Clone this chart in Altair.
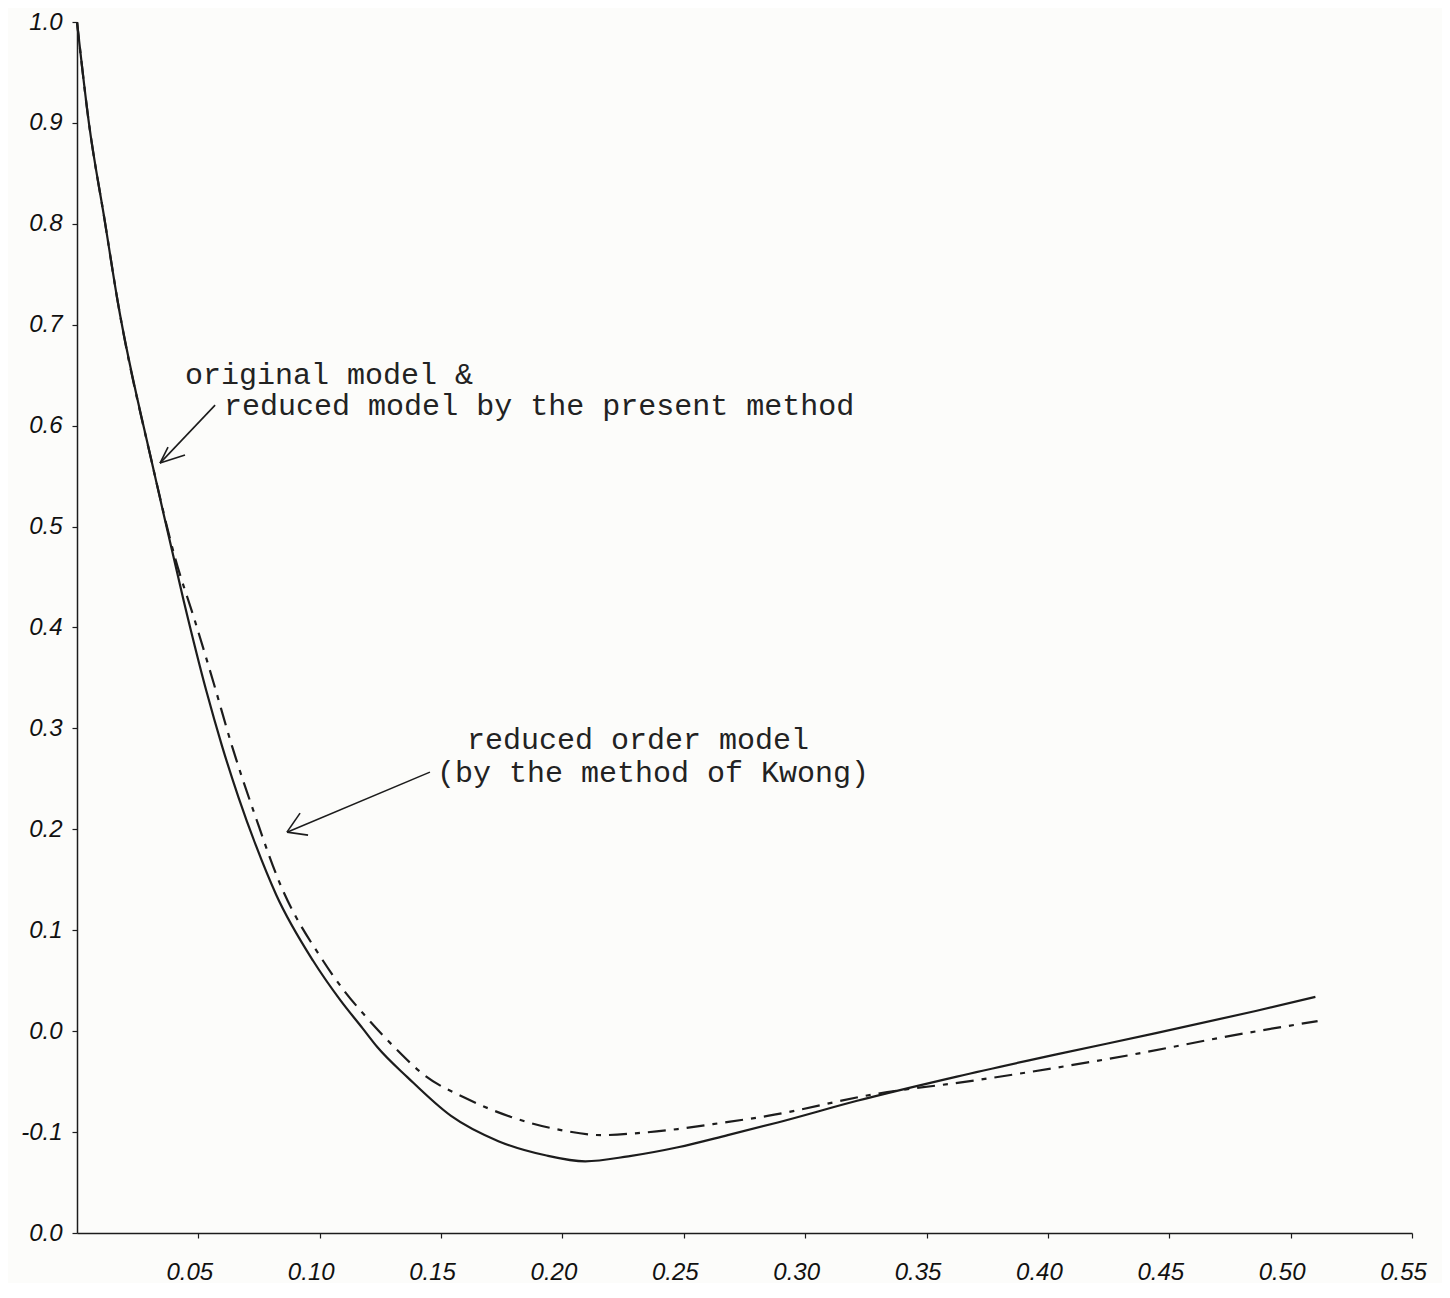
import altair as alt
import pandas as pd

# ---- data ----
t_original = [0.0, 0.0049, 0.0115, 0.0167, 0.031, 0.0344, 0.0439, 0.0533, 0.0597, 0.0665,
              0.0737, 0.0821, 0.0972, 0.1084, 0.1176, 0.1238, 0.1363, 0.1541, 0.1736, 0.193,
              0.2094, 0.2271, 0.2476, 0.2681, 0.2887, 0.3214, 0.3625, 0.4035, 0.4445, 0.4856,
              0.5102]
y_original = [1.0, 0.900, 0.802, 0.724, 0.562, 0.526, 0.427, 0.337, 0.283, 0.232,
              0.184, 0.135, 0.070, 0.031, 0.003, -0.016, -0.046, -0.084, -0.109, -0.123,
              -0.129, -0.124, -0.115, -0.103, -0.0905, -0.069, -0.045, -0.023, -0.002, 0.020,
              0.034]

t_kwong = [0.0, 0.0049, 0.0115, 0.0167, 0.031, 0.0404, 0.0484, 0.0563, 0.0638, 0.0739,
           0.0833, 0.1013, 0.1104, 0.1188, 0.1308, 0.1433, 0.1598, 0.1788, 0.1994, 0.2159,
           0.2311, 0.2475, 0.2652, 0.2845, 0.3296, 0.3694, 0.4064, 0.4376, 0.4721, 0.5111]
y_kwong = [1.0, 0.900, 0.802, 0.724, 0.562, 0.469, 0.408, 0.345, 0.283, 0.210,
           0.148, 0.070, 0.039, 0.015, -0.016, -0.044, -0.066, -0.085, -0.098, -0.103,
           -0.101, -0.097, -0.091, -0.084, -0.062, -0.049, -0.035, -0.022, -0.006, 0.010]

x_ticks = [0.05, 0.10, 0.15, 0.20, 0.25, 0.30, 0.35, 0.40, 0.45, 0.50, 0.55]
y_ticks = [-0.2, -0.1, 0.0, 0.1, 0.2, 0.3, 0.4, 0.5, 0.6, 0.7, 0.8, 0.9, 1.0]

note_text = ["original model &", "reduced model by the present method",
             "reduced order model", "(by the method of Kwong)"]
note_x = [0.0445, 0.0606, 0.1607, 0.1483]
note_y = [0.650, 0.619, 0.2884, 0.2557]

# arrows: shaft + two head arms, each as a segment (x, y) -> (x2, y2)
arrow_x1 = [0.0569, 0.0342, 0.0342, 0.1454, 0.0865, 0.0865]
arrow_y1 = [0.6204, 0.5629, 0.5629, 0.2567, 0.1972, 0.1972]
arrow_x2 = [0.0342, 0.0375, 0.0445, 0.0865, 0.0919, 0.0952]
arrow_y2 = [0.5629, 0.5788, 0.5709, 0.1972, 0.2161, 0.1943]

# ---- tables ----
df_orig = pd.DataFrame({"t": t_original, "y": y_original})
df_kwong = pd.DataFrame({"t": t_kwong, "y": y_kwong})
df_notes = pd.DataFrame({"x": note_x, "y": note_y, "text": note_text})
df_arrows = pd.DataFrame({"x": arrow_x1, "y": arrow_y1, "x2": arrow_x2, "y2": arrow_y2})

INK = "#1c1c1c"

x_scale = alt.Scale(domain=[0, 0.55], nice=False, zero=False)
y_scale = alt.Scale(domain=[-0.2, 1.0], nice=False, zero=False)

x_axis = alt.Axis(values=x_ticks, format=".2f", grid=False, domainColor=INK, domainWidth=1.5,
                  tickColor=INK, tickSize=5, tickWidth=1.2, labelFont="Liberation Sans",
                  labelFontStyle="italic", labelFontSize=24, labelColor="#111",
                  labelPadding=22, labelOffset=-9, title=None, labelFlush=False)
y_axis = alt.Axis(values=y_ticks, grid=False, domainColor=INK, domainWidth=1.5,
                  tickColor=INK, tickSize=5, tickWidth=1.2, labelFont="Liberation Sans",
                  labelFontStyle="italic", labelFontSize=24, labelColor="#111",
                  labelPadding=10, title=None,
                  labelExpr="datum.value < -0.15 ? '0.0' : (datum.value < -0.05 ? '-0.1' : format(datum.value, '.1f'))")

original = alt.Chart(df_orig).mark_line(color=INK, strokeWidth=2.2, interpolate="monotone").encode(
    x=alt.X("t:Q", scale=x_scale, axis=x_axis),
    y=alt.Y("y:Q", scale=y_scale, axis=y_axis),
)

kwong = alt.Chart(df_kwong).mark_line(color=INK, strokeWidth=2.2, interpolate="monotone",
                                      strokeDash=[18, 8, 5, 8]).encode(
    x=alt.X("t:Q", scale=x_scale),
    y=alt.Y("y:Q", scale=y_scale),
)

notes = alt.Chart(df_notes).mark_text(align="left", baseline="middle", font="Liberation Mono",
                                      fontSize=30, color="#222").encode(
    x=alt.X("x:Q", scale=x_scale),
    y=alt.Y("y:Q", scale=y_scale),
    text="text:N",
)

arrows = alt.Chart(df_arrows).mark_rule(color=INK, strokeWidth=1.6).encode(
    x=alt.X("x:Q", scale=x_scale),
    y=alt.Y("y:Q", scale=y_scale),
    x2="x2:Q",
    y2="y2:Q",
)

chart = alt.layer(original, kwong, arrows, notes).properties(
    width=1335,
    height=1211,
    background="#fcfcfa",
    padding={"left": 69, "top": 14, "right": 30, "bottom": 50},
    autosize=alt.AutoSizeParams(type="none"),
).configure_view(stroke=None)

chart.save("out.html", embed_options={"renderer": "svg", "actions": False})
